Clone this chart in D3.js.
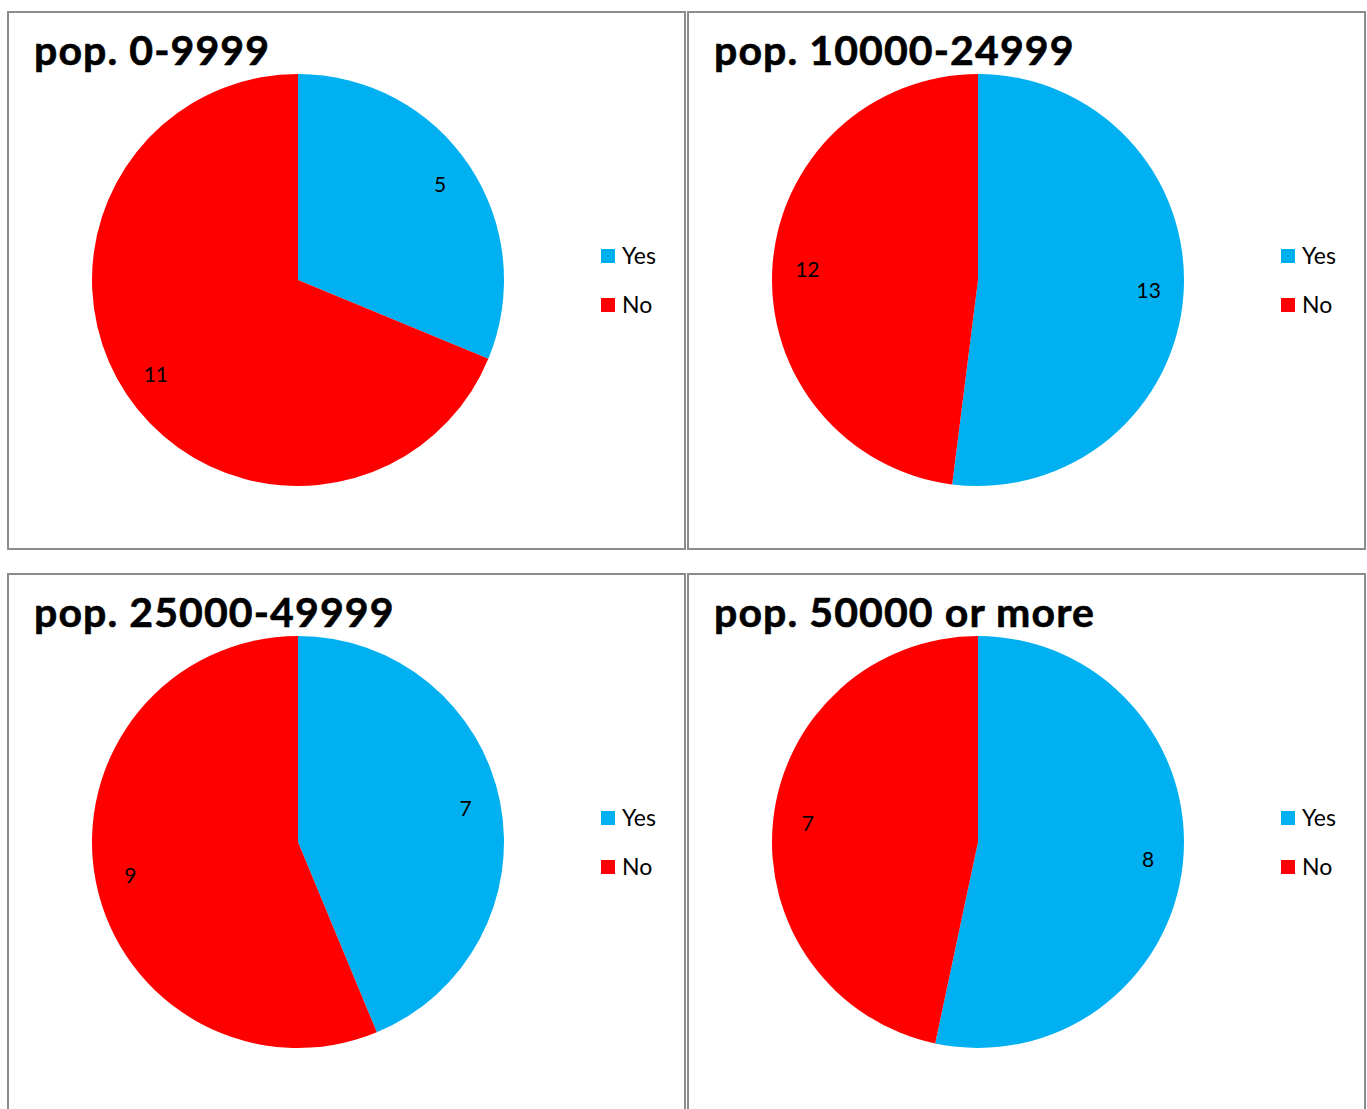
<!DOCTYPE html>
<html>
<head>
<meta charset="utf-8">
<script src="https://cdn.jsdelivr.net/npm/d3@7"></script>
<style>
  html, body { margin: 0; padding: 0; background: #ffffff; }
  svg { display: block; }
</style>
</head>
<body>
<svg id="chart" width="1367" height="1109"></svg>
<script>
// Survey answers by municipality population band
const titles = ["pop. 0-9999", "pop. 10000-24999", "pop. 25000-49999", "pop. 50000 or more"];
const categories = ["Yes", "No"];
const yesValues = [5, 13, 7, 8];
const noValues = [11, 12, 9, 7];
const sliceColors = ["#00B0F0", "#FF0000"];

const svg = d3.select("#chart");

// 2x2 grid of chart panels
const colX = [8, 688];
const rowY = [12, 574];
const panelW = 677, panelH = 537;
const radius = 206;
const pieCx = 290, pieCy = 268;

const color = d3.scaleOrdinal().domain(categories).range(sliceColors);

const pie = d3.pie().sort(null).value(d => d.value).startAngle(0).endAngle(2 * Math.PI);
const arc = d3.arc().innerRadius(0).outerRadius(radius);
const labelArc = d3.arc().innerRadius(radius * 0.83).outerRadius(radius * 0.83);

const font = "Lato, 'Carlito', Calibri, 'Open Sans', sans-serif";

titles.forEach((title, i) => {
  const px = colX[i % 2], py = rowY[Math.floor(i / 2)];
  const g = svg.append("g").attr("transform", `translate(${px},${py})`);

  g.append("rect")
    .attr("x", 0).attr("y", 0)
    .attr("width", panelW).attr("height", panelH)
    .attr("fill", "#ffffff")
    .attr("stroke", "#8c8c8c")
    .attr("stroke-width", 2);

  g.append("text")
    .attr("x", 26).attr("y", 53)
    .attr("font-family", font)
    .attr("font-weight", "bold")
    .attr("font-size", 41)
    .attr("letter-spacing", 1.1)
    .attr("stroke", "#000000")
    .attr("stroke-width", 0.6)
    .attr("fill", "#000000")
    .text(title);

  const data = categories.map((c, k) => ({ category: c, value: [yesValues, noValues][k][i] }));
  const arcs = pie(data);

  const pg = g.append("g").attr("transform", `translate(${pieCx},${pieCy})`);
  pg.selectAll("path")
    .data(arcs)
    .join("path")
    .attr("d", arc)
    .attr("fill", d => color(d.data.category));

  pg.selectAll("text")
    .data(arcs)
    .join("text")
    .attr("transform", d => `translate(${labelArc.centroid(d)})`)
    .attr("text-anchor", "middle")
    .attr("dy", "0.35em")
    .attr("font-family", font)
    .attr("font-size", 21)
    .attr("fill", "#000000")
    .text(d => d.data.value);

  // legend
  const lg = g.append("g").attr("transform", "translate(593,237)");
  const items = lg.selectAll("g")
    .data(categories)
    .join("g")
    .attr("transform", (d, k) => `translate(0,${k * 49})`);
  items.append("rect")
    .attr("x", 0).attr("y", 0)
    .attr("width", 14).attr("height", 14)
    .attr("fill", d => color(d));
  items.append("text")
    .attr("x", 21).attr("y", 7)
    .attr("dy", "0.35em")
    .attr("font-family", font)
    .attr("font-size", 23)
    .attr("fill", "#000000")
    .text(d => d);
});
</script>
</body>
</html>
